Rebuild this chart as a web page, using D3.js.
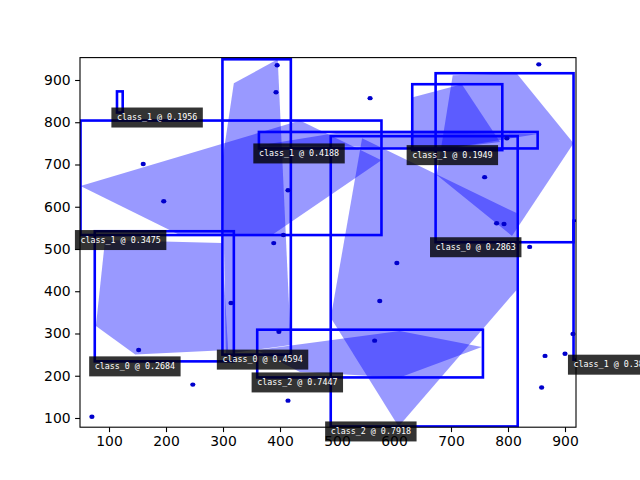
<!DOCTYPE html>
<html>
<head>
<meta charset="UTF-8">
<script src="https://d3js.org/d3.v7.min.js"></script>
<style>
  body { margin: 0; background: #fff; }
  svg { display: block; }
  .tick text { font-family: "DejaVu Sans", sans-serif; font-size: 13.9px; fill: #000; }
  .tick line { stroke: #000; stroke-width: 1.1; }
  .lbl { font-family: "DejaVu Sans Mono", monospace; font-size: 8.33px; fill: #fff; }
</style>
</head>
<body>
<div id="chart"></div>
<script>
// detections: [x1, y1, x2, y2] with y1 the lower edge
const boxes = [
  [114, 823, 124, 873],
  [50, 533, 578, 804],
  [299, 250, 419, 949],
  [363, 738, 852, 777],
  [632, 734, 790, 890],
  [673, 516, 915, 916],
  [489, 80, 817, 767],
  [360, 196, 756, 309],
  [75, 234, 319, 542],
  [915, 238, 990, 567]
];
const classNames = ["class_1", "class_1", "class_0", "class_1", "class_1",
                    "class_0", "class_2", "class_2", "class_0", "class_1"];
const scores = [0.1956, 0.3475, 0.4594, 0.4188, 0.1949,
                0.2863, 0.7918, 0.7447, 0.2684, 0.3812];

// mask polygons, one per detection (null = none visible)
const polygons = [
  null,
  [[50, 649], [435, 804], [578, 710], [386, 533], [224, 533]],
  [[319, 892], [396, 949], [419, 273], [305, 252], [299, 710]],
  [[363, 745], [520, 779], [852, 772], [700, 739]],
  [[633, 859], [719, 890], [786, 753], [680, 736], [633, 736]],
  [[703, 911], [815, 916], [915, 750], [807, 531], [675, 675]],
  [[544, 762], [815, 585], [815, 403], [608, 80], [489, 337]],
  [[360, 261], [610, 306], [754, 268], [610, 196], [435, 209]],
  [[93, 521], [298, 514], [309, 261], [146, 250], [77, 318]],
  null
];

const pointsX = [70, 160, 196, 152, 247, 314, 395, 393, 414, 389, 406, 398, 414,
                 558, 605, 575, 566, 759, 780, 793, 838, 854, 865, 900, 859, 914, 798];
const pointsY = [103, 701, 613, 261, 179, 372, 935, 871, 639, 514, 533, 304, 141,
                 857, 467, 377, 283, 670, 561, 559, 505, 937, 247, 252, 172, 299, 762];

const xTicks = [100, 200, 300, 400, 500, 600, 700, 800, 900];
const yTicks = [100, 200, 300, 400, 500, 600, 700, 800, 900];

const W = 640, H = 480;
const marginLeft = 80, marginTop = 57.6, pw = 496, ph = 369.6;

const svg = d3.select("#chart").append("svg").attr("width", W).attr("height", H);

const x = d3.scaleLinear().domain([49.1, 919.3]).range([0, pw]);
const y = d3.scaleLinear().domain([78.2, 953]).range([ph, 0]);

svg.append("defs").append("clipPath").attr("id", "clip")
  .append("rect").attr("width", pw).attr("height", ph);

const g = svg.append("g").attr("transform", `translate(${marginLeft},${marginTop})`);
const plot = g.append("g").attr("clip-path", "url(#clip)");

const line = d3.line().x(d => x(d[0])).y(d => y(d[1]));

boxes.forEach((b, i) => {
  if (polygons[i]) {
    plot.append("path")
      .attr("d", line(polygons[i]) + "Z")
      .attr("fill", "blue")
      .attr("fill-opacity", 0.4);
  }
  plot.append("rect")
    .attr("x", x(b[0]))
    .attr("y", y(b[3]))
    .attr("width", x(b[2]) - x(b[0]))
    .attr("height", y(b[1]) - y(b[3]))
    .attr("fill", "none")
    .attr("stroke", "blue")
    .attr("stroke-width", 2.6);
});

plot.selectAll("ellipse.pt")
  .data(pointsX.map((v, i) => [v, pointsY[i]]))
  .enter().append("ellipse")
  .attr("class", "pt")
  .attr("cx", d => x(d[0]))
  .attr("cy", d => y(d[1]))
  .attr("rx", 2.6)
  .attr("ry", 2.2)
  .attr("fill", "#0000cc");

// axes
g.append("g").attr("transform", `translate(0,${ph})`)
  .call(d3.axisBottom(x).tickValues(xTicks).tickSize(4.9).tickPadding(4))
  .call(a => a.select(".domain").remove());
g.append("g")
  .call(d3.axisLeft(y).tickValues(yTicks).tickSize(4.9).tickPadding(4.5))
  .call(a => a.select(".domain").remove());

g.append("rect")
  .attr("width", pw).attr("height", ph)
  .attr("fill", "none").attr("stroke", "#000").attr("stroke-width", 1.1);

// labels on top, not clipped
boxes.forEach((b, i) => {
  const ax = x(b[0]), ay = y(b[1]);
  const lg = g.append("g");
  const r = lg.append("rect");
  const t = lg.append("text")
    .attr("class", "lbl")
    .attr("x", ax)
    .attr("y", ay + 7.5)
    .text(`${classNames[i]} @ ${scores[i].toFixed(4)}`);
  const tw = t.node().getComputedTextLength();
  r.attr("x", ax - 5.6)
    .attr("y", ay - 5)
    .attr("width", tw + 11.2)
    .attr("height", 20)
    .attr("fill", "#000")
    .attr("fill-opacity", 0.8);
});
</script>
</body>
</html>
